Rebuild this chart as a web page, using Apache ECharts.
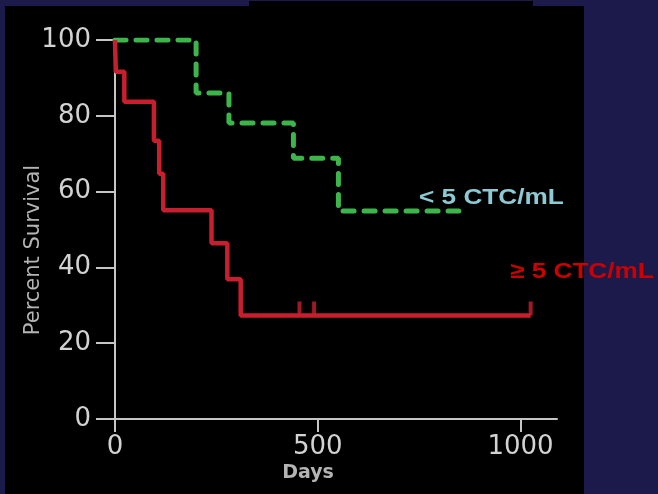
<!DOCTYPE html>
<html>
<head>
<meta charset="utf-8">
<script src="https://cdn.jsdelivr.net/npm/echarts@6/dist/echarts.min.js"></script>
<style>
  html, body { margin: 0; padding: 0; background: #1b1a4b; }
  #chart { width: 658px; height: 494px; }
</style>
</head>
<body>
<div id="chart"></div>
<script>
// Kaplan-Meier steps: [day, percent survival]
var highCtcSteps = [
  [0, 100], [2, 91.6], [23, 83.7], [96, 73.4], [109, 64.7], [119, 55.1],
  [238, 46.4], [277, 36.9], [310, 27.3], [1025, 27.3]
];
var highCtcCensored = [[455, 27.3], [491, 27.3], [1025, 27.3]];
var lowCtcSteps = [
  [0, 100], [200, 86.0], [281, 78.1], [440, 68.8], [551, 54.9], [848, 54.9]
];
var xTicks = [0, 500, 1000];
var yTicks = [0, 20, 40, 60, 80, 100];

var myChart = echarts.init(document.getElementById("chart"));

var option = {
  backgroundColor: "#1b1a4b",
  animation: false,
  grid: { left: 115, right: 101, top: 40, bottom: 75 },
  xAxis: {
    type: "value",
    min: 0,
    max: 1090,
    interval: 500,
    splitLine: { show: false },
    axisLine: { onZero: false, lineStyle: { color: "#c6c6c6", width: 2 } },
    axisTick: { customValues: xTicks, length: 13, lineStyle: { color: "#c6c6c6", width: 2 } },
    axisLabel: {
      customValues: xTicks,
      margin: 15,
      color: "#d2d2d2",
      fontFamily: "DejaVu Sans",
      fontSize: 26,
      formatter: function (v) {
        return String(v);
      }
    }
  },
  yAxis: {
    type: "value",
    min: 0,
    max: 100,
    interval: 20,
    splitLine: { show: false },
    axisLine: { show: true, onZero: false, lineStyle: { color: "#c6c6c6", width: 2 } },
    axisTick: { show: true, length: 19, lineStyle: { color: "#c6c6c6", width: 2 } },
    axisLabel: {
      margin: 24,
      color: "#d2d2d2",
      fontFamily: "DejaVu Sans",
      fontSize: 26,
      formatter: function (v) {
        return yTicks.indexOf(v) >= 0 ? String(v) : "";
      }
    }
  },
  graphic: [
    // slide backdrop: black panel on the navy page
    { type: "rect", z: -10, shape: { x: 5, y: 6, width: 579, height: 488 }, style: { fill: "#000" } },
    { type: "rect", z: -10, shape: { x: 249, y: 1, width: 284, height: 6 }, style: { fill: "#000" } },
    {
      type: "text", x: 34, y: 250, rotation: Math.PI / 2,
      style: {
        text: "Percent Survival", fill: "#b4b4b4", fontFamily: "DejaVu Sans",
        fontSize: 21, align: "center", verticalAlign: "middle"
      }
    },
    {
      type: "text", x: 308, y: 473,
      style: {
        text: "Days", fill: "#b4b4b4", fontFamily: "DejaVu Sans", fontWeight: "bold",
        fontSize: 19, align: "center", verticalAlign: "middle"
      }
    },
    {
      type: "text", x: 419, y: 198, scaleX: 1.19,
      style: {
        text: "< 5 CTC/mL", fill: "#8ccbd3", fontFamily: "Liberation Sans", fontWeight: "bold",
        fontSize: 22, align: "left", verticalAlign: "middle"
      }
    },
    {
      type: "text", x: 510, y: 272, scaleX: 1.19,
      style: {
        text: "≥ 5 CTC/mL", fill: "#cc0000", fontFamily: "Liberation Sans", fontWeight: "bold",
        fontSize: 22, align: "left", verticalAlign: "middle"
      }
    }
  ],
  series: [
    {
      name: "< 5 CTC/mL",
      type: "line",
      step: "end",
      showSymbol: false,
      data: lowCtcSteps,
      lineStyle: { color: "#3cb54a", width: 5, type: [11, 10], cap: "round" },
      z: 3
    },
    {
      name: ">= 5 CTC/mL",
      type: "line",
      step: "end",
      showSymbol: false,
      data: highCtcSteps,
      lineStyle: { color: "#c81f2e", width: 4.5 },
      z: 4
    },
    {
      // censoring marks
      type: "scatter",
      data: highCtcCensored,
      symbol: "rect",
      symbolSize: [4, 14],
      symbolOffset: [0, "-50%"],
      itemStyle: { color: "#c81f2e" },
      z: 4
    }
  ]
};

myChart.setOption(option);
</script>
</body>
</html>
